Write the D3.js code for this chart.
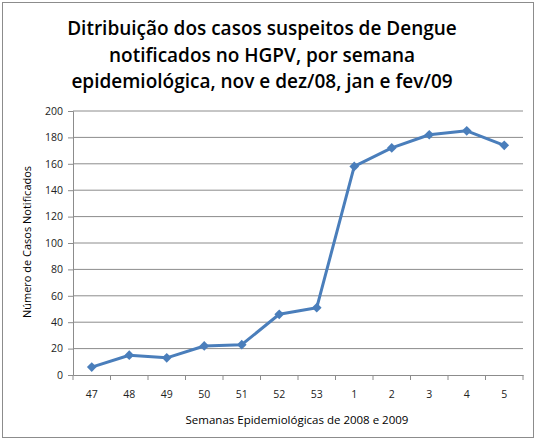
<!doctype html>
<html lang="pt">
<head>
  <meta charset="UTF-8">
  <title>Dengue HGPV</title>
  <script src="https://cdn.jsdelivr.net/npm/d3@7"></script>
  <style>
    body { margin: 0; background: #fff; }
    text { font-family: "Open Sans", "DejaVu Sans", sans-serif; }
  </style>
</head>
<body>
<svg width="539" height="443" id="chart"></svg>
<script>
  var semanas = ['47', '48', '49', '50', '51', '52', '53', '1', '2', '3', '4', '5'];
  var casos = [6, 15, 13, 22, 23, 46, 51, 158, 172, 182, 185, 174];
  var yTicks = [0, 20, 40, 60, 80, 100, 120, 140, 160, 180, 200];
  var tituloLinhas = ['Ditribuição dos casos suspeitos de Dengue',
    'notificados no HGPV, por semana',
    'epidemiológica, nov e dez/08, jan e fev/09'];

  (function () {
    var svg = d3.select('#chart'),
      margin = {top: 111, right: 16, bottom: 68, left: 73},
      width = +svg.attr('width') - margin.left - margin.right,
      height = +svg.attr('height') - margin.top - margin.bottom;

    var data = semanas.map(function (s, i) { return {semana: s, casos: casos[i]}; });

    svg.append('rect')
      .attr('x', 2.5).attr('y', 2.5)
      .attr('width', 531).attr('height', 435)
      .attr('fill', '#fff').attr('stroke', '#8c8c8c');

    svg.selectAll('.titulo').data(tituloLinhas).enter().append('text')
      .attr('class', 'titulo')
      .attr('x', 262)
      .attr('y', function (d, i) { return 35 + i * 26.5; })
      .attr('text-anchor', 'middle')
      .attr('font-size', '19px')
      .attr('font-weight', 600)
      .attr('fill', '#000')
      .text(function (d) { return d; });

    var x = d3.scaleBand().domain(semanas).range([0, width]),
      y = d3.scaleLinear().domain([0, 200]).range([height, 0]);
    var g = svg.append('g').attr('transform', 'translate(' + margin.left + ',' + margin.top + ')');

    // grade horizontal
    g.selectAll('.grid').data(yTicks.slice(1)).enter().append('line')
      .attr('class', 'grid')
      .attr('x1', 0).attr('x2', width)
      .attr('y1', function (d) { return y(d); })
      .attr('y2', function (d) { return y(d); })
      .attr('stroke', '#8c8c8c').attr('stroke-width', 1);

    var yAxis = g.append('g')
      .call(d3.axisLeft(y).tickValues(yTicks).tickSize(5).tickPadding(5));
    yAxis.selectAll('path, line').attr('stroke', '#8c8c8c');
    yAxis.selectAll('text').attr('font-size', '10.5px').attr('fill', '#222')
      .style('font-family', '"Open Sans", sans-serif');

    var xAxis = g.append('g')
      .attr('transform', 'translate(0,' + height + ')')
      .call(d3.axisBottom(x).tickSize(0).tickPadding(16));
    xAxis.select('path').attr('stroke', '#8c8c8c');
    xAxis.selectAll('text').attr('font-size', '10.5px').attr('fill', '#222')
      .style('font-family', '"Open Sans", sans-serif');

    // marcas entre categorias
    var limites = semanas.map(function (s) { return x(s); }).concat([width]);
    g.selectAll('.xtick').data(limites).enter().append('line')
      .attr('class', 'xtick')
      .attr('x1', function (d) { return d; }).attr('x2', function (d) { return d; })
      .attr('y1', height).attr('y2', height + 5)
      .attr('stroke', '#8c8c8c');

    var line = d3.line()
      .x(function (d) { return x(d.semana) + x.bandwidth() / 2; })
      .y(function (d) { return y(d.casos); });

    g.append('path').datum(data)
      .attr('d', line)
      .attr('fill', 'none')
      .attr('stroke', '#4a7ebb')
      .attr('stroke-width', 3)
      .attr('stroke-linejoin', 'round');

    g.selectAll('.ponto').data(data).enter().append('path')
      .attr('class', 'ponto')
      .attr('d', d3.symbol().type(d3.symbolDiamond2).size(60))
      .attr('transform', function (d) {
        return 'translate(' + (x(d.semana) + x.bandwidth() / 2) + ',' + y(d.casos) + ')';
      })
      .attr('fill', '#4a7ebb');

    svg.append('text')
      .attr('x', 297)
      .attr('y', 424)
      .attr('text-anchor', 'middle')
      .attr('font-size', '11.5px')
      .attr('fill', '#000')
      .text('Semanas Epidemiológicas  de 2008 e 2009');

    svg.append('text')
      .attr('transform', 'translate(31,' + (margin.top + height / 2 - 1) + ') rotate(-90)')
      .attr('text-anchor', 'middle')
      .attr('font-size', '11px')
      .attr('fill', '#000')
      .text('Número de Casos  Notificados');
  })();
</script>
</body>
</html>
